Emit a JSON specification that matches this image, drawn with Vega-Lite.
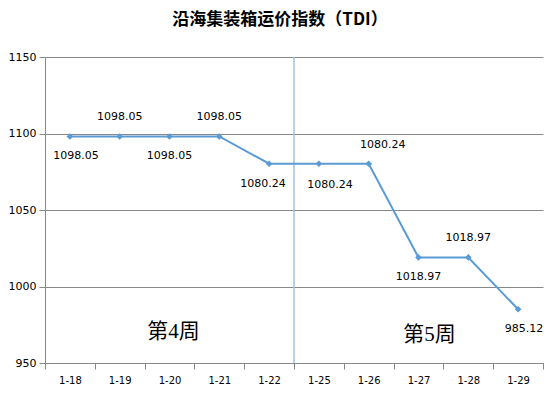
{
  "$schema": "https://vega.github.io/schema/vega-lite/v6.json",
  "width": 498,
  "height": 306,
  "autosize": "none",
  "padding": {"left": 45, "top": 57, "right": 16, "bottom": 36},
  "background": "white",
  "title": {
    "text": "沿海集装箱运价指数（TDI）",
    "font": "Noto Sans CJK SC",
    "fontSize": 17,
    "fontWeight": "bold",
    "color": "#000000",
    "anchor": "middle",
    "dx": -14,
    "offset": 22
  },
  "datasets": {
    "tdi": [
      {"date": "1-18", "value": 1098.05},
      {"date": "1-19", "value": 1098.05},
      {"date": "1-20", "value": 1098.05},
      {"date": "1-21", "value": 1098.05},
      {"date": "1-22", "value": 1080.24},
      {"date": "1-25", "value": 1080.24},
      {"date": "1-26", "value": 1080.24},
      {"date": "1-27", "value": 1018.97},
      {"date": "1-28", "value": 1018.97},
      {"date": "1-29", "value": 985.12}
    ],
    "weeks": [
      {"date": "1-20", "value": 970, "label": "第4周"},
      {"date": "1-27", "value": 968, "label": "第5周"}
    ],
    "divider": [{"date": "1-25"}]
  },
  "encoding": {
    "x": {
      "field": "date",
      "type": "ordinal",
      "scale": {
        "domain": ["1-18", "1-19", "1-20", "1-21", "1-22", "1-25", "1-26", "1-27", "1-28", "1-29"],
        "paddingInner": 0,
        "paddingOuter": 0
      },
      "axis": {
        "title": null,
        "labelAngle": 0,
        "labelFont": "DejaVu Sans",
        "labelFontSize": 10,
        "labelColor": "#000000",
        "labelPadding": 6,
        "tickBand": "extent",
        "tickColor": "#888888",
        "tickSize": 6,
        "domainColor": "#888888",
        "grid": false
      }
    }
  },
  "layer": [
    {
      "data": {"name": "divider"},
      "mark": {"type": "rule", "color": "#9DC3E6", "strokeWidth": 1.5},
      "encoding": {
        "x": {"field": "date", "type": "ordinal", "bandPosition": 0}
      }
    },
    {
      "data": {"name": "tdi"},
      "mark": {"type": "line", "color": "#5B9BD5", "strokeWidth": 2},
      "encoding": {
        "y": {
          "field": "value",
          "type": "quantitative",
          "scale": {"domain": [950, 1150], "nice": false, "zero": false},
          "axis": {
            "title": null,
            "values": [950, 1000, 1050, 1100, 1150],
            "format": "d",
            "labelFont": "DejaVu Sans",
            "labelFontSize": 11,
            "labelColor": "#000000",
            "labelPadding": 3,
            "tickColor": "#888888",
            "tickSize": 6,
            "domainColor": "#888888",
            "gridColor": "#888888",
            "gridWidth": 1
          }
        }
      }
    },
    {
      "data": {"name": "tdi"},
      "mark": {"type": "point", "shape": "diamond", "filled": true, "color": "#5B9BD5", "size": 45, "opacity": 1},
      "encoding": {"y": {"field": "value", "type": "quantitative"}}
    },
    {
      "data": {"name": "tdi"},
      "transform": [{"filter": {"field": "date", "oneOf": ["1-19", "1-21", "1-28"]}}],
      "mark": {"type": "text", "font": "DejaVu Sans", "fontSize": 11, "color": "#000000", "baseline": "middle", "dy": -19},
      "encoding": {
        "y": {"field": "value", "type": "quantitative"},
        "text": {"field": "value", "type": "quantitative", "format": ".2f"}
      }
    },
    {
      "data": {"name": "tdi"},
      "transform": [{"filter": {"field": "date", "oneOf": ["1-26"]}}],
      "mark": {"type": "text", "font": "DejaVu Sans", "fontSize": 11, "color": "#000000", "baseline": "middle", "dy": -19, "dx": 14},
      "encoding": {
        "y": {"field": "value", "type": "quantitative"},
        "text": {"field": "value", "type": "quantitative", "format": ".2f"}
      }
    },
    {
      "data": {"name": "tdi"},
      "transform": [{"filter": {"field": "date", "oneOf": ["1-20", "1-27"]}}],
      "mark": {"type": "text", "font": "DejaVu Sans", "fontSize": 11, "color": "#000000", "baseline": "middle", "dy": 20},
      "encoding": {
        "y": {"field": "value", "type": "quantitative"},
        "text": {"field": "value", "type": "quantitative", "format": ".2f"}
      }
    },
    {
      "data": {"name": "tdi"},
      "transform": [{"filter": {"field": "date", "oneOf": ["1-18", "1-29"]}}],
      "mark": {"type": "text", "font": "DejaVu Sans", "fontSize": 11, "color": "#000000", "baseline": "middle", "dy": 20, "dx": 6},
      "encoding": {
        "y": {"field": "value", "type": "quantitative"},
        "text": {"field": "value", "type": "quantitative", "format": ".2f"}
      }
    },
    {
      "data": {"name": "tdi"},
      "transform": [{"filter": {"field": "date", "oneOf": ["1-22"]}}],
      "mark": {"type": "text", "font": "DejaVu Sans", "fontSize": 11, "color": "#000000", "baseline": "middle", "dy": 20, "dx": -6},
      "encoding": {
        "y": {"field": "value", "type": "quantitative"},
        "text": {"field": "value", "type": "quantitative", "format": ".2f"}
      }
    },
    {
      "data": {"name": "tdi"},
      "transform": [{"filter": {"field": "date", "oneOf": ["1-25"]}}],
      "mark": {"type": "text", "font": "DejaVu Sans", "fontSize": 11, "color": "#000000", "baseline": "middle", "dy": 21, "dx": 11},
      "encoding": {
        "y": {"field": "value", "type": "quantitative"},
        "text": {"field": "value", "type": "quantitative", "format": ".2f"}
      }
    },
    {
      "data": {"name": "weeks"},
      "transform": [{"filter": {"field": "date", "equal": "1-20"}}],
      "mark": {"type": "text", "font": "Liberation Serif, Noto Sans CJK SC", "fontSize": 21, "color": "#000000", "baseline": "middle", "dx": 4},
      "encoding": {
        "y": {"field": "value", "type": "quantitative"},
        "text": {"field": "label"}
      }
    },
    {
      "data": {"name": "weeks"},
      "transform": [{"filter": {"field": "date", "equal": "1-27"}}],
      "mark": {"type": "text", "font": "Liberation Serif, Noto Sans CJK SC", "fontSize": 21, "color": "#000000", "baseline": "middle", "dx": 11},
      "encoding": {
        "y": {"field": "value", "type": "quantitative"},
        "text": {"field": "label"}
      }
    }
  ],
  "config": {
    "view": {"stroke": null},
    "axis": {"domainWidth": 1}
  }
}
